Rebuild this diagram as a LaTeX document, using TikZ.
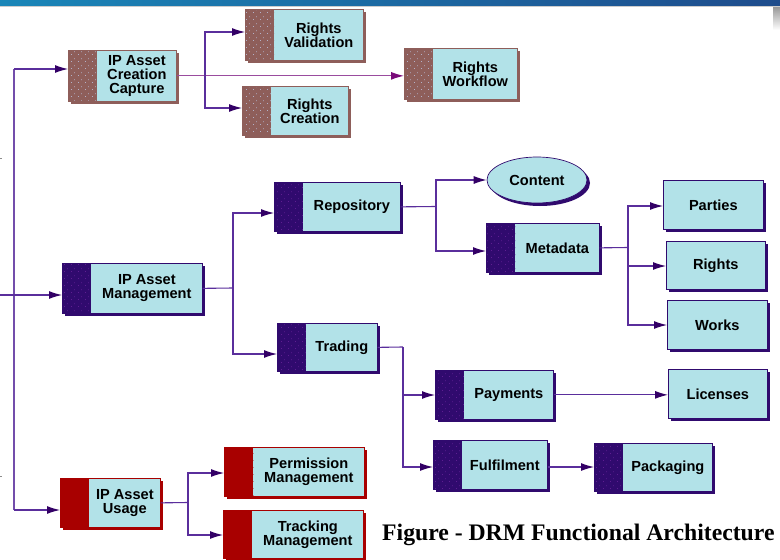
\documentclass[tikz,border=0pt]{standalone}
\usepackage{fontspec}
\setmainfont{Liberation Serif}
\newfontfamily\boxfont{Liberation Sans}
\usetikzlibrary{arrows.meta,shapes.geometric,shadows,patterns.meta}

\definecolor{lightc}{HTML}{B2E2E8}
\definecolor{brownc}{HTML}{8E5E5A}
\definecolor{brownspeck}{HTML}{B4B2C8}
\definecolor{purplec}{HTML}{300A6E}
\definecolor{purplespeck}{HTML}{5E1E92}
\definecolor{redc}{HTML}{A80000}
\definecolor{linec}{HTML}{5A2E9C}
\definecolor{linemag}{HTML}{9A4C9E}
\definecolor{tipc}{HTML}{330066}
\definecolor{tipmag}{HTML}{7A0A7A}
\definecolor{barL}{HTML}{1A86B8}
\definecolor{barR}{HTML}{1E4C8C}

% sparse stipple used on the dark strips
\tikzdeclarepattern{
  name=speckle,
  type=uncolored,
  bounding box={(0pt,0pt) and (7pt,7pt)},
  tile size={(7pt,7pt)},
  code={
    \fill (1.2pt,1.2pt) rectangle (2.1pt,2.1pt);
    \fill (4.6pt,4.4pt) rectangle (5.5pt,5.3pt);
  }
}

\begin{document}
\begin{tikzpicture}[x=1pt,y=-1pt,
  lbl/.style={font=\boxfont\bfseries\fontsize{14.6}{14}\selectfont, align=center, inner sep=0pt},
  wh/.style 2 args={minimum width=#1pt, minimum height=#2pt},
  plainbox/.style={anchor=north west, draw=#1, fill=lightc, line width=0.7pt, inner sep=0pt,
    drop shadow={shadow xshift=3pt, shadow yshift=-3pt, fill=#1, opacity=1}},
  stripbox/.style 2 args={plainbox=#1,
    path picture={
      \fill[#1] (path picture bounding box.north west) rectangle ([xshift=29pt]path picture bounding box.south west);
      \fill[pattern=speckle, pattern color=#2] (path picture bounding box.north west) rectangle ([xshift=29pt]path picture bounding box.south west);
    }},
  brownbox/.style={stripbox={brownc}{brownspeck}},
  purplebox/.style={stripbox={purplec}{purplespeck}},
  redbox/.style={stripbox={redc}{redc}},
  conn/.style={draw=linec, line width=1.1pt},
  arr/.style={conn, -{Latex[length=13pt,width=8pt,color=tipc]}},
  arrmag/.style={draw=linemag, line width=1.1pt, -{Latex[length=13pt,width=8pt,color=tipmag]}},
]
% canvas and frame
\fill[white] (0,0) rectangle (780,560);
\useasboundingbox (0,0) rectangle (780,560);
\shade[left color=barL, right color=barR] (0,0) rectangle (780,5.5);
\draw[black!20, line width=1pt] (0,6.5) -- (780,6.5);
\shade[top color=black!40, bottom color=white] (773,7) rectangle (780,30);
\draw[black!45, line width=1pt] (0,158) -- (2,158);
\draw[black!45, line width=1pt] (0,476) -- (2,476);

% creation branch
\node[brownbox, wh={108}{51}] (cap) at (68,50) {};
\node[lbl] (cap-t) at ([xshift=14.5pt]cap.center) {IP Asset\\Creation\\Capture};
\node[brownbox, wh={118}{51}] (val) at (245,9) {};
\node[lbl] (val-t) at ([xshift=14.5pt]val.center) {Rights\\Validation};
\node[brownbox, wh={106}{49}] (cre) at (242,86) {};
\node[lbl] (cre-t) at ([xshift=14.5pt]cre.center) {Rights\\Creation};
\node[brownbox, wh={113}{51}] (wf) at (404,48) {};
\node[lbl] (wf-t) at ([xshift=14.5pt]wf.center) {Rights\\Workflow};

% management branch
\node[purplebox, wh={140}{50}] (mgmt) at (62,263) {};
\node[lbl] (mgmt-t) at ([xshift=14.5pt]mgmt.center) {IP Asset\\Management};
\node[purplebox, wh={126}{49}] (rep) at (274,182) {};
\node[lbl] (rep-t) at ([xshift=14.5pt]rep.center) {Repository};
\node[purplebox, wh={100}{48}] (trd) at (277,323) {};
\node[lbl] (trd-t) at ([xshift=14.5pt]trd.center) {Trading};
\node[ellipse, draw=purplec, fill=lightc, line width=0.7pt, wh={100}{46}, lbl,
  drop shadow={shadow xshift=3pt, shadow yshift=-3pt, fill=purplec, opacity=1}] (cont) at (537,180) {Content};
\node[purplebox, wh={113}{49}] (meta) at (486,223) {};
\node[lbl] (meta-t) at ([xshift=14.5pt]meta.center) {Metadata};
\node[plainbox=purplec, wh={100}{49}, lbl] (part) at (663,180) {Parties};
\node[plainbox=purplec, wh={99}{48}, lbl] (rig) at (666,241) {Rights};
\node[plainbox=purplec, wh={100}{49}, lbl] (work) at (667,300) {Works};
\node[purplebox, wh={118}{49}] (pay) at (435,370) {};
\node[lbl] (pay-t) at ([xshift=14.5pt]pay.center) {Payments};
\node[plainbox=purplec, wh={99}{49}, lbl] (lic) at (668,369) {Licenses};
\node[purplebox, wh={114}{49}] (ful) at (433,440) {};
\node[lbl] (ful-t) at ([xshift=14.5pt]ful.center) {Fulfilment};
\node[purplebox, wh={118}{48}] (pack) at (594,443) {};
\node[lbl] (pack-t) at ([xshift=14.5pt]pack.center) {Packaging};

% usage branch
\node[redbox, wh={100}{49}] (use) at (60,478) {};
\node[lbl] (use-t) at ([xshift=14.5pt]use.center) {IP Asset\\Usage};
\node[redbox, wh={140}{49}] (perm) at (224,447) {};
\node[lbl] (perm-t) at ([xshift=14.5pt]perm.center) {Permission\\Management};
\node[redbox, wh={140}{48}] (trk) at (223,510) {};
\node[lbl] (trk-t) at ([xshift=14.5pt]trk.center) {Tracking\\Management};

\node[anchor=base west, font=\bfseries\fontsize{23.7}{26}\selectfont, inner sep=0pt] (fig) at (382,540)
  {Figure - DRM Functional Architecture};

% connectors
\coordinate (spT) at (14,69);
\coordinate (spB) at (14,510);
\coordinate (inL) at (0,295);
\draw[conn, draw=linec!85] (spT) -- (spB);
\draw[arr] (spT) -- (spT -| cap.west);
\draw[arr] (inL) -- (inL -| mgmt.west);
\draw[arr] (spB) -- (spB -| use.west);

\coordinate (j1) at (205,75.5);
\draw[arrmag] (cap.east) -- (cap.east -| wf.west);
\draw[arr] (j1) |- (val.west |- 0,32);
\draw[arr] (j1) |- (cre.west |- 0,108);

\coordinate (j2) at (233,288);
\draw[conn] (mgmt.east) -- (j2);
\draw[arr] (j2) |- (rep.west |- 0,213);
\draw[arr] (j2) |- (trd.west |- 0,354);

\coordinate (j3) at (436,206.5);
\draw[conn] (rep.east) -- (j3);
\draw[arr] (j3) |- (cont.west);
\draw[arr] (j3) |- (meta.west |- 0,251);

\coordinate (j4) at (628,247.5);
\draw[conn] (meta.east) -- (j4);
\draw[arr] (j4) |- (part.west |- 0,206);
\draw[arr] (j4) |- (rig.west |- 0,266);
\draw[arr] (j4) |- (work.west |- 0,325);

\coordinate (j5) at (403,347);
\draw[conn] (trd.east) -- (j5);
\draw[arr] (j5) |- (pay.west |- 0,395);
\draw[arr] (j5) |- (ful.west |- 0,467);
\draw[arr] (pay.east) -- (pay.east -| lic.west);
\draw[arr] (ful.east |- 0,467) -- (pack.west |- 0,467);

\coordinate (j6) at (188,502.5);
\draw[conn] (use.east) -- (j6);
\draw[arr] (j6) |- (perm.west |- 0,473);
\draw[arr] (j6) |- (trk.west |- 0,535);
\end{tikzpicture}
\end{document}
